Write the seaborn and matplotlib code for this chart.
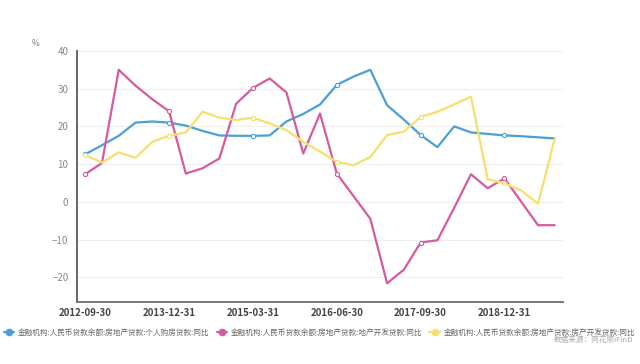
import pandas as pd
import seaborn as sns
import matplotlib
matplotlib.use('Agg')
import matplotlib.pyplot as plt
from matplotlib.lines import Line2D

# quarterly dates, 2012-09-30 .. 2019-09-30
dates = pd.date_range('2012-09-30', periods=29, freq='QE').strftime('%Y-%m-%d').tolist()

# 个人购房贷款 同比
personal = [12.6, 15.0, 17.5, 21.0, 21.3, 21.0, 20.2, 18.8, 17.6, 17.5,
            17.5, 17.6, 21.3, 23.3, 25.8, 31.0, 33.2, 35.0, 25.6, 21.8,
            17.7, 14.5, 20.0, 18.4, 18.0, 17.6, 17.4, 17.1, 16.8]
# 地产开发贷款 同比
land_dev = [7.3, 10.3, 35.0, 30.8, 27.2, 24.0, 7.5, 8.9, 11.5, 26.0,
            30.2, 32.7, 29.0, 12.8, 23.4, 7.5, 1.5, -4.5, -21.6, -18.0,
            -10.8, -10.2, -1.6, 7.3, 3.6, 6.2, 0.0, -6.2, -6.2]
# 房产开发贷款 同比
house_dev = [12.4, 10.4, 13.1, 11.7, 15.9, 17.5, 18.4, 23.9, 22.3, 21.7,
             22.3, 20.8, 19.0, 15.9, 13.3, 10.6, 9.7, 11.9, 17.7, 18.6,
             22.5, 23.9, 25.8, 27.9, 6.0, 4.9, 3.0, -0.5, 16.8]

labels = ['金融机构:人民币贷款余额:房地产贷款:个人购房贷款:同比',
          '金融机构:人民币贷款余额:房地产贷款:地产开发贷款:同比',
          '金融机构:人民币贷款余额:房地产贷款:房产开发贷款:同比']
colors = ['#4a9fd6', '#d65a9e', '#f5df6e']

sns.set_style('white')
plt.rcParams['font.family'] = ['Noto Sans CJK SC', 'DejaVu Sans']

fig = plt.figure(figsize=(6.4, 3.64), dpi=100)
ax = fig.add_axes([0.12, 0.17, 0.76, 0.69])

x = list(range(len(dates)))
for series, c in zip([personal, land_dev, house_dev], colors):
    sns.lineplot(x=x, y=series, color=c, linewidth=1.6, ax=ax,
                 marker='o', markevery=5, markersize=3,
                 markerfacecolor='white', markeredgecolor=c, markeredgewidth=0.8)

ax.set_xlim(-0.5, len(dates) - 0.5)
ax.set_ylim(-26.6, 40)
ax.set_yticks(range(-20, 41, 10))
ax.set_xticks(x[::5])
ax.set_xticklabels(dates[::5], fontsize=7, color='#444444', fontweight='bold')
ax.tick_params(axis='y', labelsize=7, colors='#888888', length=0, pad=6)
ax.tick_params(axis='x', length=0, pad=4)
ax.grid(axis='y', color='#eeeeee', linewidth=0.8)
ax.set_axisbelow(True)
for s in ['top', 'right']:
    ax.spines[s].set_visible(False)
ax.spines['left'].set_color('#666666')
ax.spines['left'].set_linewidth(1.4)
ax.spines['bottom'].set_color('#777777')
ax.spines['bottom'].set_linewidth(1.4)

fig.text(0.05, 0.875, '%', fontsize=6, color='#777777')

handles = [Line2D([], [], color=c, linewidth=1.6, marker='o', markersize=4.5,
                  markerfacecolor=c, markeredgecolor=c) for c in colors]
fig.legend(handles, labels, loc='center left', bbox_to_anchor=(-0.005, 0.085),
           ncol=3, frameon=False, fontsize=5.5, labelcolor='#666666',
           handlelength=1.4, handletextpad=0.5, columnspacing=0.9)

fig.text(0.865, 0.06, '数据来源：同花顺iFinD', fontsize=5.5, color='#aaaaaa')

fig.savefig('out.png', dpi=100)
